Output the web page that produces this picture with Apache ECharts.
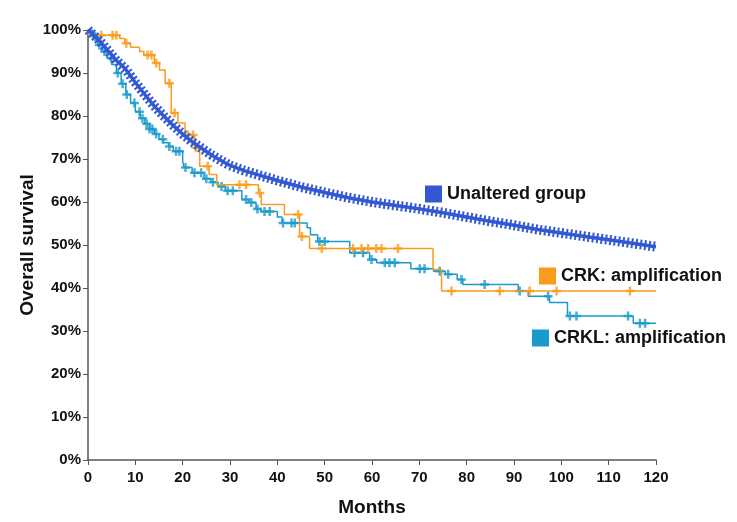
<!DOCTYPE html>
<html>
<head>
<meta charset="utf-8">
<script src="https://cdn.jsdelivr.net/npm/echarts@6/dist/echarts.min.js"></script>
<style>html,body{margin:0;padding:0;background:#fff}#c{width:737px;height:522px}</style>
</head>
<body>
<div id="c"></div>
<script>
const xTicks = [0,10,20,30,40,50,60,70,80,90,100,110,120];
const yTicks = [0,10,20,30,40,50,60,70,80,90,100];

// Unaltered group KM curve (month, survival %)
const unalteredCurve = [[0,100],[1,99],[2,98],[3,96.8],[4,95.5],[5,94.2],[6,92.9],[7,91.9],[8,90.8],[9,89.3],[10,87.8],[12,85],[14,82.3],[16,80],[18,77.8],[20,75.8],[22,74],[24,72.5],[26,71],[28,69.7],[30,68.5],[33,67.3],[36,66.3],[40,65],[45,63.5],[50,62.2],[55,61],[60,60],[65,59.2],[70,58.4],[75,57.5],[80,56.5],[85,55.5],[90,54.6],[95,53.6],[100,52.8],[105,52],[110,51.2],[115,50.4],[120,49.6]];

// CRK amplification KM steps (event month, survival after)
const crkSteps = [[0,98.8],[6.7,98.0],[7.8,96.9],[9.0,96.0],[10.9,95.0],[11.8,94.2],[14.0,92.3],[15.1,90.7],[16.3,87.6],[17.6,80.7],[19.0,78.4],[20.5,75.6],[22.5,72.6],[23.6,68.3],[25.6,66.4],[27.2,64.0],[36.0,62.1],[36.6,59.4],[41.5,57.1],[44.7,52.0],[46.8,49.2],[72.9,44.3],[74.7,39.3],[120,39.3]];
const crkCensor = [[2.8,98.8],[5.2,98.8],[6.0,98.8],[8.1,96.9],[12.6,94.2],[13.4,94.2],[14.4,92.3],[17.2,87.6],[18.3,80.7],[21.1,75.6],[22.2,75.6],[22.8,72.6],[25.3,68.3],[32,64],[33.4,64],[36.3,62.1],[44.4,57.1],[45.2,52.0],[49.4,49.2],[56,49.2],[57.8,49.2],[59.2,49.2],[60.9,49.2],[62,49.2],[65.5,49.2],[76.8,39.3],[87,39.3],[93.3,39.3],[99,39.3],[114.5,39.3]];

// CRKL amplification KM steps
const crklSteps = [[0,100],[1,98.5],[2,96.5],[3,95],[4,93.5],[5,92],[6,90],[7,87.5],[8,85],[9,83],[10,81],[11,79.5],[12,78.2],[13,77],[14,75.8],[15,74.6],[16,73.8],[17,72.9],[18,71.8],[20,69.5],[20.3,68],[22,66.8],[24.5,65.4],[26,64.6],[27.5,63.6],[29,62.6],[32.5,60.6],[34,59.9],[35.5,58.4],[36.5,57.8],[40,56.5],[41,55.1],[46.3,54],[47,52.4],[48.5,50.8],[55.3,48.2],[59.5,46.6],[61,45.9],[68.2,44.5],[73,43.9],[75.5,43.2],[78,42],[79.2,40.8],[90.9,39.3],[93,38.1],[97.5,36.6],[101.3,33.5],[115.2,31.8],[120,31.8]];
const crklCensor = [[1.5,98.5],[2.4,96.5],[3.5,95],[4.9,93.5],[6.3,90],[7.3,87.5],[8.2,85],[9.8,83],[10.9,81],[11.5,79.5],[12.4,78.2],[13,77],[13.6,77],[14.4,75.8],[15.8,74.6],[17.2,72.9],[18.6,71.8],[19.3,71.8],[20.6,68],[22.5,66.8],[23.9,66.8],[25,65.4],[26.4,64.6],[28.2,63.6],[29.5,62.6],[30.6,62.6],[33.4,60.6],[34.5,59.9],[35.8,58.4],[37.3,57.8],[38.4,57.8],[41.2,55.1],[43,55.1],[43.7,55.1],[48.9,50.8],[50,50.8],[56.3,48.2],[58.1,48.2],[59.9,46.6],[62.7,45.9],[63.7,45.9],[64.8,45.9],[70.1,44.5],[71.1,44.5],[74.3,43.9],[76.1,43.2],[78.9,42],[83.8,40.8],[91.2,39.3],[97.2,38.1],[101.8,33.5],[103.2,33.5],[114.1,33.5],[116.6,31.8],[117.7,31.8]];

const cUnalt = '#3358d4', cCrk = '#f99b1c', cCrkl = '#1a9acb';
const plus = 'path://M3.6,0H6.4V3.6H10V6.4H6.4V10H3.6V6.4H0V3.6H3.6Z';
const font = 'Liberation Sans, Arial, sans-serif';

const chart = echarts.init(document.getElementById('c'));
chart.setOption({
  animation: false,
  backgroundColor: '#fff',
  grid: {left: 88, right: 81, top: 30, bottom: 61},
  xAxis: {
    type: 'value', min: xTicks[0], max: xTicks[xTicks.length-1], interval: 10,
    name: 'Months', nameLocation: 'middle', nameGap: 38, nameMoveOverlap: false,
    nameTextStyle: {fontFamily: font, fontWeight: 'bold', fontSize: 19, color: '#111'},
    axisLine: {lineStyle: {color: '#555', width: 1.5}},
    axisTick: {show: true, length: 5, lineStyle: {color: '#555'}},
    axisLabel: {fontFamily: font, fontWeight: 'bold', fontSize: 15, color: '#111', margin: 10},
    splitLine: {show: false}
  },
  yAxis: {
    type: 'value', min: yTicks[0], max: yTicks[yTicks.length-1], interval: 10,
    name: 'Overall survival', nameLocation: 'middle', nameGap: 51, nameMoveOverlap: false,
    nameTextStyle: {fontFamily: font, fontWeight: 'bold', fontSize: 19, color: '#111'},
    axisLine: {show: true, lineStyle: {color: '#555', width: 1.5}},
    axisTick: {show: true, length: 5, lineStyle: {color: '#555'}},
    axisLabel: {formatter: '{value}%', fontFamily: font, fontWeight: 'bold', fontSize: 15, color: '#111', margin: 7},
    splitLine: {show: false}
  },
  legend: [
    {data: ['Unaltered group'], left: 425, top: 185, padding: 0, icon: 'rect', itemWidth: 17, itemHeight: 17, itemGap: 5,
     textStyle: {fontFamily: font, fontWeight: 'bold', fontSize: 18, color: '#111'}},
    {data: ['CRK: amplification'], left: 539, top: 267, padding: 0, icon: 'rect', itemWidth: 17, itemHeight: 17,
     textStyle: {fontFamily: font, fontWeight: 'bold', fontSize: 18, color: '#111'}},
    {data: ['CRKL: amplification'], left: 532, top: 329, padding: 0, icon: 'rect', itemWidth: 17, itemHeight: 17,
     textStyle: {fontFamily: font, fontWeight: 'bold', fontSize: 18, color: '#111'}}
  ],
  series: [
    {name: 'CRKL: amplification', type: 'line', step: 'end', data: crklSteps, showSymbol: false, color: cCrkl,
     lineStyle: {width: 1.5, color: cCrkl}, z: 3},
    {name: 'crklC', type: 'scatter', data: crklCensor, symbol: plus, symbolSize: 9, itemStyle: {color: cCrkl}, z: 4},
    {name: 'CRK: amplification', type: 'line', step: 'end', data: crkSteps, showSymbol: false, color: cCrk,
     lineStyle: {width: 1.5, color: cCrk}, z: 5},
    {name: 'crkC', type: 'scatter', data: crkCensor, symbol: plus, symbolSize: 9, itemStyle: {color: cCrk}, z: 6},
    {name: 'Unaltered group', type: 'line', data: unalteredCurve, showSymbol: false, color: cUnalt,
     lineStyle: {width: 3.5, color: cUnalt}, z: 7},
    {name: 'unaltMarks', type: 'line', data: unalteredCurve, showSymbol: false, color: cUnalt,
     lineStyle: {width: 10, color: cUnalt, type: [2, 2.4], cap: 'butt'}, z: 7}
  ]
});
</script>
</body>
</html>
